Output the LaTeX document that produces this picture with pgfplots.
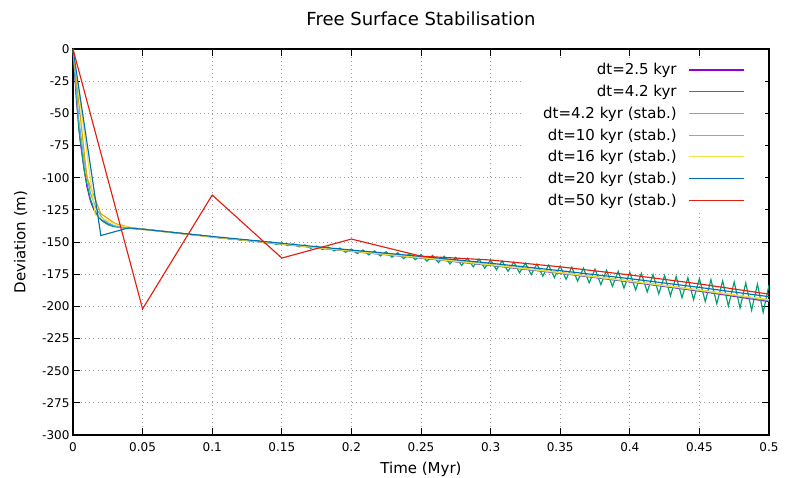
\documentclass[border=0pt]{standalone}
\usepackage{fontspec}
\setmainfont{DejaVu Sans}
\usepackage{pgfplots}
\pgfplotsset{compat=1.18}

\definecolor{gpPurple}{HTML}{9400D3}
\definecolor{gpGreen}{HTML}{009E73}
\definecolor{gpSky}{HTML}{56B4E9}
\definecolor{gpOrange}{HTML}{E69F00}
\definecolor{gpYellow}{HTML}{F0E442}
\definecolor{gpBlue}{HTML}{0072B2}
\definecolor{gpRed}{HTML}{E51E10}

\begin{document}
\begin{tikzpicture}
\begin{axis}[
    scale only axis,
    width=696pt, height=386pt,
    xmin=0, xmax=0.5, ymin=-300, ymax=0,
    xtick={0,0.05,...,0.5}, ytick={-300,-275,...,0},
    scaled x ticks=false,
    xticklabel style={/pgf/number format/fixed, /pgf/number format/precision=2, yshift=-4pt},
    /pgf/number format/assume math mode=true,
    tick label style={font=\fontsize{12}{14}\selectfont},
    tick align=inside, major tick length=7pt,
    axis line style={line width=1.2pt},
    major tick style={line width=0.8pt, black},
    grid=major,
    major grid style={dash pattern=on 0.9pt off 3.2pt, gray!75, line width=0.8pt},
    title={Free Surface Stabilisation},
    title style={font=\fontsize{18}{20}\selectfont, yshift=14pt},
    xlabel={Time (Myr)}, ylabel={Deviation (m)},
    label style={font=\fontsize{15}{17}\selectfont},
    xlabel style={yshift=-4pt},
    ylabel style={yshift=8pt},
    legend plot pos=right,
    legend cell align=right,
    legend image code/.code={\draw[#1] (0pt,0pt) -- (55pt,0pt);},
    legend style={at={(rel axis cs:1,1)}, anchor=north east,
        xshift=-4pt, yshift=-10pt, draw=none, fill=white,
        inner xsep=20pt, inner ysep=0pt, column sep=10pt,
        font=\fontsize{15}{17}\selectfont,
        nodes={inner ysep=4.4pt}},
    every axis plot/.append style={line width=1.15pt},
]
% dt=2.5 kyr
\addplot[gpPurple] coordinates {
(0,0) (0.0025,-40) (0.005,-70) (0.0075,-90) (0.01,-107) (0.0125,-118)
(0.015,-125) (0.0175,-129.5) (0.02,-132.5) (0.025,-136) (0.03,-137.8)
(0.035,-138.8) (0.04,-139.3) (0.05,-140) (0.1,-146) (0.15,-151.7)
(0.2,-157.3) (0.25,-162.5) (0.3,-168.2) (0.35,-174.3) (0.4,-181)
(0.45,-188.2) (0.5,-196.3)};
\addlegendentry{dt=2.5 kyr}
% dt=4.2 kyr, no stabilisation
\addplot[gpGreen] coordinates {
(0,0) (0.0042,-62) (0.0083,-96) (0.0125,-117) (0.0167,-128) (0.0208,-133.5)
(0.025,-136.5) (0.0292,-138) (0.0333,-138.5) (0.0375,-139) (0.0417,-139.3)
(0.0458,-139.7) (0.05,-140)
(0.0542,-140.5) (0.0583,-141.0) (0.0625,-141.6) (0.0667,-141.9) (0.0708,-142.6)
(0.075,-142.9) (0.0792,-143.7) (0.0833,-143.8) (0.0875,-144.7) (0.0917,-144.8)
(0.0958,-145.8) (0.1,-145.7)
(0.1042,-146.8) (0.1083,-146.5) (0.1125,-147.8) (0.1167,-147.4) (0.1208,-148.8)
(0.125,-148.2) (0.1292,-149.8) (0.1333,-149.0) (0.1375,-150.8) (0.1417,-149.9)
(0.1458,-151.8) (0.15,-150.7)
(0.1542,-152.8) (0.1583,-151.5) (0.1625,-153.8) (0.1667,-152.3) (0.1708,-154.9)
(0.175,-153.1) (0.1792,-155.9) (0.1833,-153.9) (0.1875,-156.9) (0.1917,-154.7)
(0.1958,-158.0) (0.2,-155.5)
(0.2042,-159.0) (0.2083,-156.2) (0.2125,-160.0) (0.2167,-156.9) (0.2208,-160.9)
(0.225,-157.6) (0.2292,-161.9) (0.2333,-158.3) (0.2375,-162.9) (0.2417,-159.0)
(0.2458,-163.8) (0.25,-159.7)
(0.2542,-164.9) (0.2583,-160.4) (0.2625,-166.0) (0.2667,-161.1) (0.2708,-167.1)
(0.275,-161.9) (0.2792,-168.2) (0.2833,-162.6) (0.2875,-169.3) (0.2917,-163.3)
(0.2958,-170.4) (0.3,-164.0)
(0.3042,-171.6) (0.3083,-164.8) (0.3125,-172.8) (0.3167,-165.6) (0.3208,-174.0)
(0.325,-166.4) (0.3292,-175.3) (0.3333,-167.1) (0.3375,-176.5) (0.3417,-167.9)
(0.3458,-177.7) (0.35,-168.7)
(0.3542,-179.0) (0.3583,-169.5) (0.3625,-180.4) (0.3667,-170.3) (0.3708,-181.7)
(0.375,-171.1) (0.3792,-183.1) (0.3833,-171.9) (0.3875,-184.5) (0.3917,-172.7)
(0.3958,-185.8) (0.4,-173.5)
(0.4042,-187.3) (0.4083,-174.3) (0.4125,-188.8) (0.4167,-175.2) (0.4208,-190.3)
(0.425,-176.0) (0.4292,-191.8) (0.4333,-176.8) (0.4375,-193.3) (0.4417,-177.7)
(0.4458,-194.8) (0.45,-178.5)
(0.4542,-196.3) (0.4583,-179.3) (0.4625,-198.0) (0.4667,-180.2) (0.4708,-199.7)
(0.475,-181.0) (0.4792,-201.3) (0.4833,-181.8) (0.4875,-203.0) (0.4917,-182.7)
(0.4958,-204.7) (0.5,-183.5)};
\addlegendentry{dt=4.2 kyr}
% dt=4.2 kyr, stabilised
\addplot[gpSky] coordinates {
(0,0) (0.0042,-55) (0.0083,-90) (0.0125,-112) (0.0167,-124) (0.0208,-131)
(0.025,-135) (0.0292,-137.2) (0.0333,-138.3) (0.0375,-139) (0.05,-140)
(0.1,-146) (0.15,-151.6) (0.2,-157.2) (0.25,-162.3) (0.3,-167.9)
(0.35,-174) (0.4,-180.6) (0.45,-187.7) (0.5,-195.5)};
\addlegendentry{dt=4.2 kyr (stab.)}
% dt=10 kyr
\addplot[gpOrange] coordinates {
(0,0) (0.01,-100) (0.02,-128) (0.03,-135.5) (0.04,-138.5) (0.05,-140)
(0.1,-146) (0.15,-151.5) (0.2,-157) (0.25,-162) (0.3,-167.6)
(0.35,-173.7) (0.4,-180.3) (0.45,-187.3) (0.5,-195)};
\addlegendentry{dt=10 kyr (stab.)}
% dt=16 kyr
\addplot[gpYellow] coordinates {
(0,0) (0.016,-129) (0.032,-137) (0.048,-140) (0.1,-146) (0.15,-151.5)
(0.2,-157) (0.25,-162.1) (0.3,-167.7) (0.35,-173.8) (0.4,-180.4)
(0.45,-187.4) (0.5,-194.8)};
\addlegendentry{dt=16 kyr (stab.)}
% dt=20 kyr
\addplot[gpBlue] coordinates {
(0,0) (0.02,-145) (0.04,-139) (0.06,-141.2) (0.1,-145.7) (0.15,-151)
(0.2,-156.3) (0.25,-161.2) (0.3,-166.5) (0.35,-172.3) (0.4,-178.5)
(0.45,-185.3) (0.5,-192.5)};
\addlegendentry{dt=20 kyr (stab.)}
% dt=50 kyr
\addplot[gpRed] coordinates {
(0,0) (0.05,-202) (0.1,-113.5) (0.15,-162.5) (0.2,-147.7) (0.25,-161)
(0.3,-164) (0.35,-169.3) (0.4,-175.6) (0.45,-182.6) (0.5,-190.5)};
\addlegendentry{dt=50 kyr (stab.)}
\coordinate (bl) at (rel axis cs:0,0);
\coordinate (tr) at (rel axis cs:1,1);
\end{axis}
\pgfresetboundingbox
\useasboundingbox ([xshift=-73pt,yshift=-43pt]bl) rectangle ([xshift=18pt,yshift=49pt]tr);
\end{tikzpicture}
\end{document}
